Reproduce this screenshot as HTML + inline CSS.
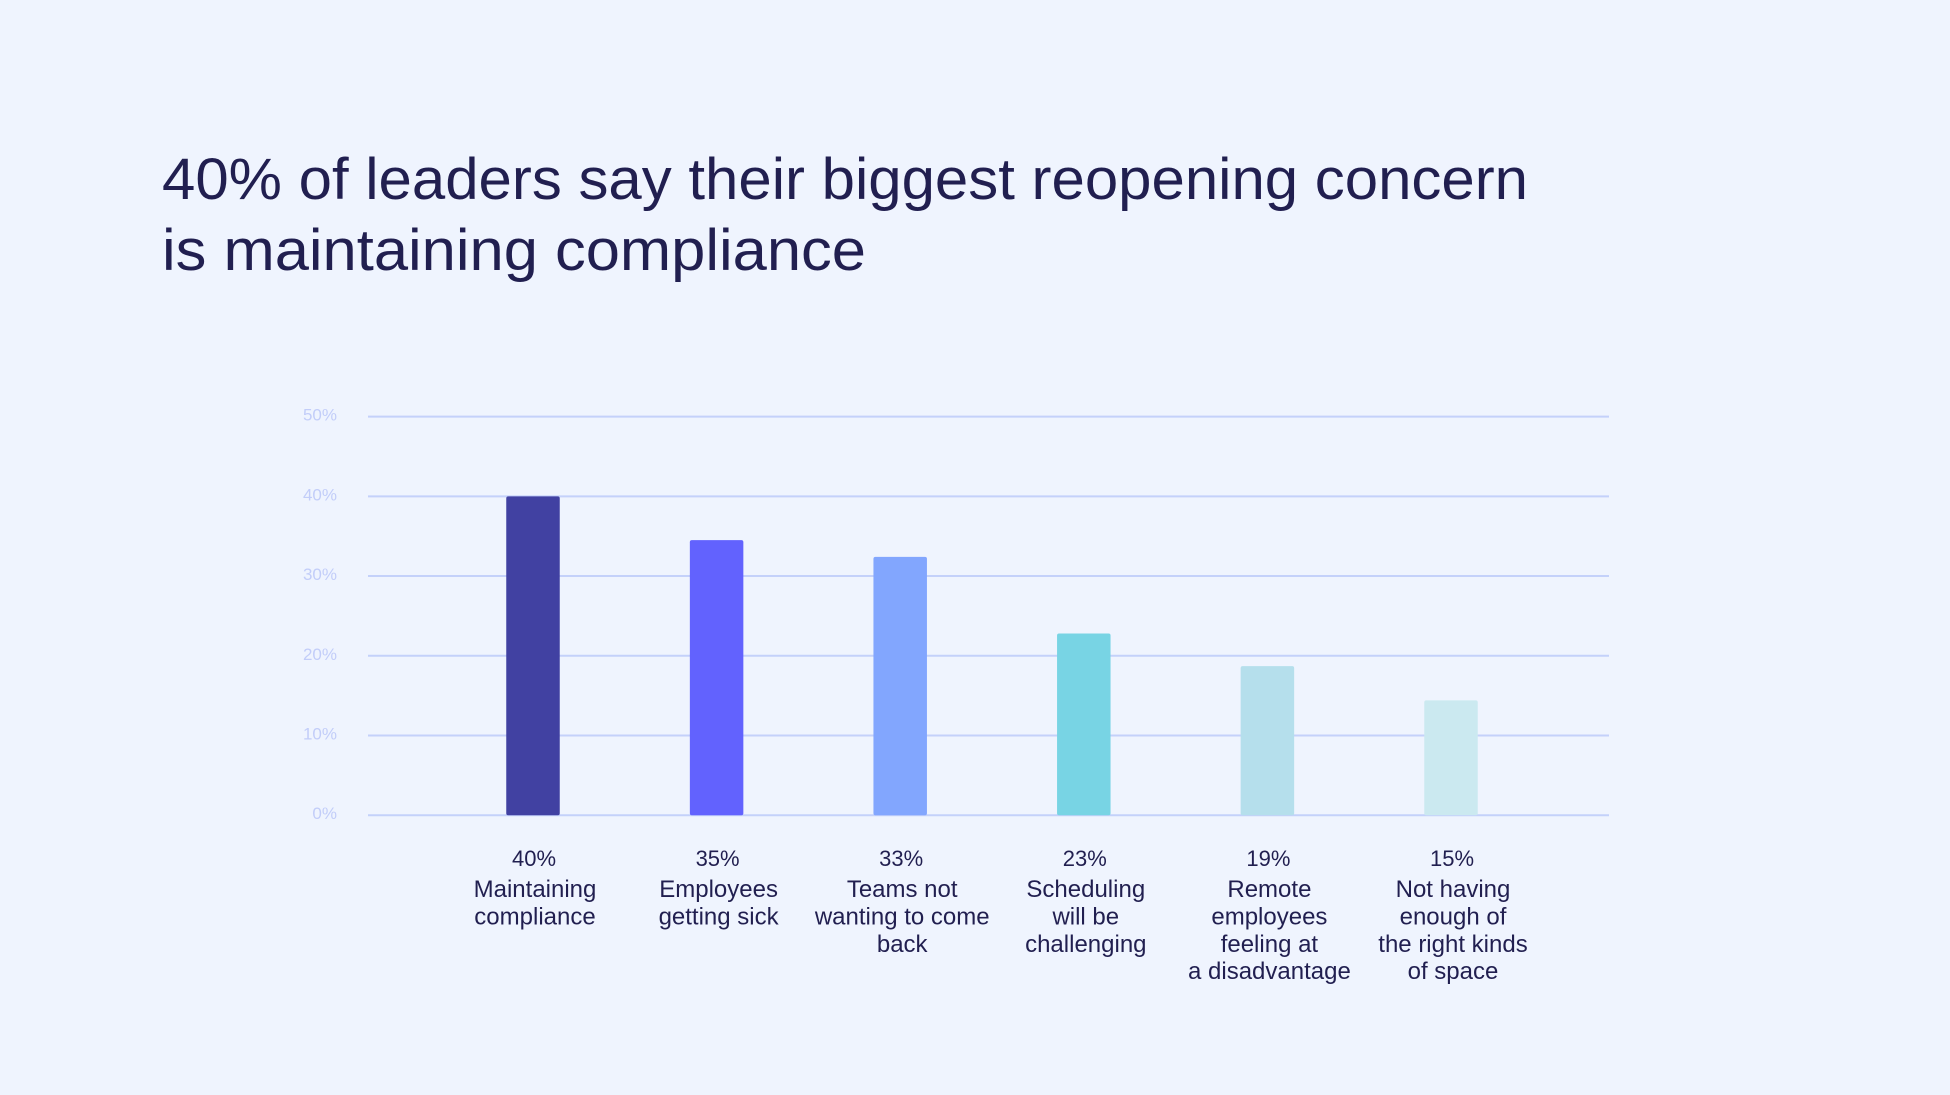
<!DOCTYPE html>
<html><head><meta charset="utf-8">
<style>
html,body{margin:0;padding:0;background:#eff4fe;}
svg{display:block;font-family:"Liberation Sans",sans-serif;}
</style></head>
<body>
<svg id="chart" width="1950" height="1095" viewBox="0 0 1950 1095" xmlns="http://www.w3.org/2000/svg">
<rect x="0" y="0" width="1950" height="1095" fill="#eff4fe"/>
<g fill="#211f50" font-size="58">
<text x="162" y="199" textLength="1366" lengthAdjust="spacingAndGlyphs">40% of leaders say their biggest reopening concern</text>
<text x="162" y="270" textLength="704" lengthAdjust="spacingAndGlyphs">is maintaining compliance</text>
</g>
<g id="grid"></g>
<g id="yticks"></g>
<g id="bars"></g>
<g id="labels"></g>
</svg>
<script>
const categories = [
  ["Maintaining","compliance"],
  ["Employees","getting sick"],
  ["Teams not","wanting to come","back"],
  ["Scheduling","will be","challenging"],
  ["Remote","employees","feeling at","a disadvantage"],
  ["Not having","enough of","the right kinds","of space"]
];
const valueLabels = ["40%","35%","33%","23%","19%","15%"];
const values = [40, 34.5, 32.4, 22.8, 18.7, 14.4];
const colors = ["#4141a2","#6262fe","#82a6fe","#78d4e4","#b5dfec","#cbe9f0"];
const yTicks = [0,10,20,30,40,50];
const yTickLabels = ["0%","10%","20%","30%","40%","50%"];

const NS="http://www.w3.org/2000/svg";
const x0=368, x1=1609, y0=815.2, yTop=416.6, yMax=50;
const firstCenter=533, step=183.6, barW=53.5;
function y(v){return y0-(v/yMax)*(y0-yTop);}
function xc(i){return firstCenter+i*step;}
function mk(tag,attrs,parent){const e=document.createElementNS(NS,tag);for(const k in attrs)e.setAttribute(k,attrs[k]);parent.appendChild(e);return e;}

const grid=document.getElementById('grid'), yt=document.getElementById('yticks');
yTicks.forEach((t,i)=>{
  const l=mk('line',{x1:x0,x2:x1,y1:y(t),y2:y(t),stroke:'#c4d1fa','stroke-width':2},grid);
  
  
  const tx=mk('text',{x:337,y:y(t)+4,'text-anchor':'end','font-size':17,fill:'#c2cdf9'},yt);
  tx.textContent=yTickLabels[i];
  
  
});
const bars=document.getElementById('bars'), labels=document.getElementById('labels');
values.forEach((v,i)=>{
  const r=mk('rect',{x:xc(i)-barW/2,y:y(v),width:barW,height:y0-y(v),fill:colors[i],rx:2},bars);
  
  
  const g=mk('g',{},labels);
  
  
  const p=mk('text',{x:xc(i)+1,y:866,'text-anchor':'middle','font-size':22,fill:'#211f50'},g);
  p.textContent=valueLabels[i];
  categories[i].forEach((line,j)=>{
    const t=mk('text',{x:xc(i)+2,y:897+j*27.4,'text-anchor':'middle','font-size':24,fill:'#211f50'},g);
    t.textContent=line;
  });
});
</script>
</body></html>
